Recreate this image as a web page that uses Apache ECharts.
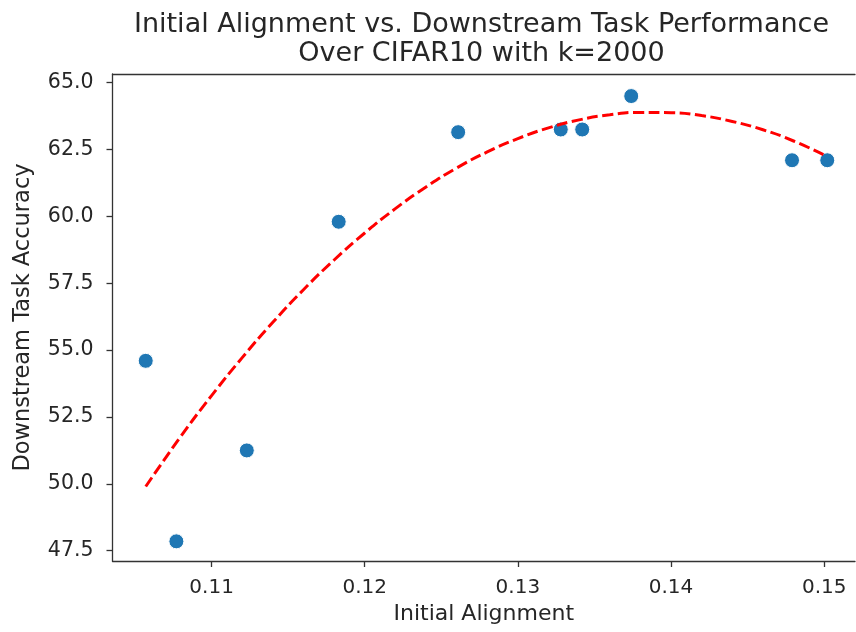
<!DOCTYPE html>
<html>
<head>
<meta charset="utf-8">
<script src="https://cdn.jsdelivr.net/npm/echarts@6/dist/echarts.min.js"></script>
<style>
html,body{margin:0;padding:0;background:#fff;}
#chart{width:856px;height:632px;}
</style>
</head>
<body>
<div id="chart"></div>
<script>
// Scatter data: initial alignment vs downstream accuracy
var alignment = [0.1057, 0.1077, 0.1123, 0.1183, 0.1261, 0.1328, 0.1342, 0.1374, 0.1479, 0.1502];
var accuracy  = [54.6, 47.85, 51.25, 59.8, 63.15, 63.25, 63.25, 64.5, 62.1, 62.1];

// Fitted (dashed red) curve
var fitX = [0.1057, 0.1080, 0.1100, 0.1120, 0.1140, 0.1160, 0.1180, 0.1200, 0.1220, 0.1240, 0.1260, 0.1280,
            0.1300, 0.1320, 0.1340, 0.1360, 0.1380, 0.1400, 0.1420, 0.1440, 0.1460, 0.1480, 0.1502];
var fitY = [49.90, 51.78, 53.30, 54.72, 56.04, 57.26, 58.37, 59.38, 60.29, 61.10, 61.81, 62.41,
            62.91, 63.31, 63.61, 63.80, 63.89, 63.88, 63.77, 63.55, 63.24, 62.82, 62.24];

// Tick labels
var xTicks = [0.11, 0.12, 0.13, 0.14, 0.15];
var yTicks = [47.5, 50.0, 52.5, 55.0, 57.5, 60.0, 62.5, 65.0];

var FONT = 'DejaVu Sans';
var TXT = '#262626';
var AX = '#333333';
var X_MIN = 0.10353, X_MAX = 0.152012;

var chart = echarts.init(document.getElementById('chart'), null, {renderer: 'canvas'});

var scatterData = alignment.map(function (x, i) { return [x, accuracy[i]]; });
var fitData = fitX.map(function (x, i) { return [x, fitY[i]]; });

chart.setOption({
  animation: false,
  backgroundColor: '#ffffff',
  title: {
    text: 'Initial Alignment vs. Downstream Task Performance\nOver CIFAR10 with k=2000',
    left: 476.5,
    top: 5,
    textAlign: 'center',
    textStyle: {fontFamily: FONT, fontSize: 27, fontWeight: 'normal', color: TXT, lineHeight: 29}
  },
  grid: {
    left: 112.5, top: 74, right: 1, bottom: 71,
    show: false,
    containLabel: false
  },
  xAxis: [{
    type: 'value',
    min: X_MIN, max: X_MAX,
    name: 'Initial Alignment',
    nameLocation: 'middle',
    nameGap: 42,
    nameTextStyle: {fontFamily: FONT, fontSize: 22, color: TXT},
    axisLine: {show: true, onZero: false, lineStyle: {color: AX, width: 1.3}},
    axisTick: {show: true, length: 6, customValues: xTicks, lineStyle: {color: AX, width: 1.3}},
    axisLabel: {
      customValues: xTicks, margin: 17,
      fontFamily: FONT, fontSize: 20, color: TXT,
      formatter: function (v) { return v.toFixed(2); }
    },
    splitLine: {show: false}
  }, {
    type: 'value',
    position: 'top',
    min: X_MIN, max: X_MAX,
    axisLine: {show: true, onZero: false, lineStyle: {color: AX, width: 1.3}},
    axisTick: {show: false},
    axisLabel: {show: false},
    splitLine: {show: false}
  }],
  yAxis: {
    type: 'value',
    min: 47.115, max: 65.325,
    name: 'Downstream Task Accuracy',
    nameLocation: 'middle',
    nameGap: 78,
    nameRotate: 90,
    nameTextStyle: {fontFamily: FONT, fontSize: 22.5, color: TXT},
    axisLine: {show: true, onZero: false, lineStyle: {color: AX, width: 1.3}},
    axisTick: {show: true, length: 6, customValues: yTicks, lineStyle: {color: AX, width: 1.3}},
    axisLabel: {
      customValues: yTicks, margin: 19,
      padding: [4, 0, 0, 0],
      fontFamily: FONT, fontSize: 20.5, color: TXT,
      formatter: function (v) { return v.toFixed(1); }
    },
    splitLine: {show: false}
  },
  series: [
    {
      type: 'scatter',
      data: scatterData,
      symbol: 'circle',
      symbolSize: 15,
      itemStyle: {color: '#1f77b4', borderColor: '#ffffff', borderWidth: 1, opacity: 1},
      z: 2
    },
    {
      type: 'line',
      data: fitData,
      showSymbol: false,
      symbol: 'none',
      smooth: true,
      lineStyle: {color: '#ff0000', width: 3, type: [11, 4.5]},
      z: 3
    }
  ]
});
</script>
</body>
</html>
